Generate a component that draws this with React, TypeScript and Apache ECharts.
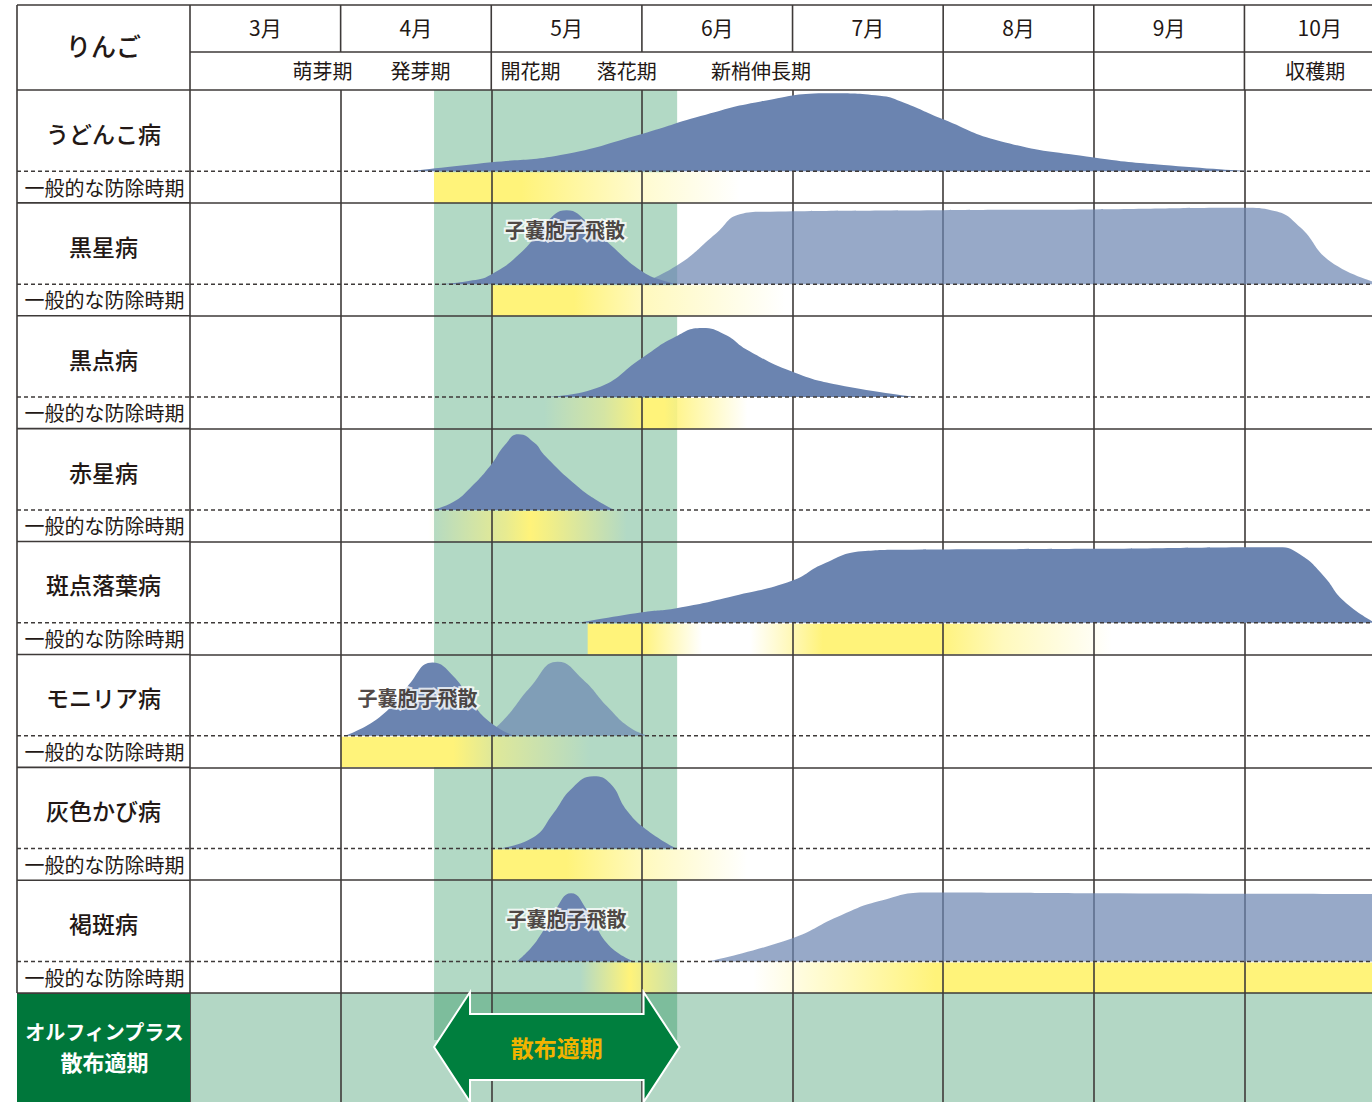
import React, { useEffect, useRef } from 'react';
import * as echarts from 'echarts';

// ---------- labels ----------
const cropLabel = 'りんご';
const months = ['3月', '4月', '5月', '6月', '7月', '8月', '9月', '10月'];
const monthCenters = [3.5, 4.5, 5.5, 6.5, 7.5, 8.5, 9.5, 10.5];
const stageLabels = ['萌芽期', '発芽期', '開花期', '落花期', '新梢伸長期', '収穫期'];
const stagePos = [3.88, 4.53, 5.26, 5.9, 6.79, 10.47];
const stageDividers = [5, 8, 9, 10];
const diseases = ['うどんこ病', '黒星病', '黒点病', '赤星病', '斑点落葉病', 'モニリア病', '灰色かび病', '褐斑病'];
const periodLabel = '一般的な防除時期';
const productLabel = ['オルフィンプラス', '散布適期'];
const sprayLabel = '散布適期';
const sporeLabel = '子嚢胞子飛散';

// ---------- x range (months) ----------
const monthStart = 3;
const monthEnd = 10.88;
const sprayWindow = [4.62, 6.234];
const sprayArrow = [4.62, 6.25];

// ---------- occurrence curves: [month, intensity 0-100] ----------
const powderyMildew = [[4.46, 0], [5.0, 11], [5.46, 20], [6.0, 46], [6.39, 68], [6.79, 86], [7.25, 96], [7.58, 93], [7.72, 86], [8.0, 64], [8.38, 37], [9.0, 17], [9.51, 7], [10.04, 0]];
const scabAscospore = [[4.64, 0], [4.85, 4], [5.0, 12], [5.22, 43], [5.36, 75], [5.5, 91], [5.64, 76], [5.8, 47], [6.0, 16], [6.15, 4], [6.25, 0]];
const scabSecondary = [[5.99, 0], [6.25, 25], [6.49, 62], [6.65, 86], [6.8, 89], [8.0, 91], [9.0, 92], [10.0, 94], [10.2, 90], [10.37, 70], [10.57, 28], [10.88, 2]];
const blackSpot = [[5.35, 0], [5.7, 11], [6.0, 48], [6.21, 73], [6.4, 85], [6.55, 77], [6.7, 58], [7.0, 31], [7.3, 15], [7.82, 0]];
const rust = [[4.61, 0], [4.75, 10], [4.86, 27], [5.0, 56], [5.09, 80], [5.18, 93], [5.29, 82], [5.35, 68], [5.56, 31], [5.7, 12], [5.82, 0]];
const alternaria = [[5.58, 0], [6.0, 13], [6.23, 18], [6.61, 33], [7.0, 52], [7.2, 72], [7.46, 88], [7.72, 90], [9.0, 91], [10.23, 93], [10.37, 84], [10.52, 59], [10.66, 27], [10.85, 2]];
const moniliaAscospore = [[4.03, 0], [4.26, 23], [4.44, 60], [4.61, 90], [4.75, 73], [4.86, 44], [4.99, 17], [5.15, 0]];
const moniliaConidia = [[4.97, 0], [5.1, 23], [5.26, 60], [5.44, 91], [5.61, 69], [5.77, 36], [5.92, 10], [6.04, 0]];
const grayMold = [[5.04, 0], [5.28, 14], [5.41, 43], [5.54, 75], [5.68, 89], [5.79, 80], [5.9, 47], [6.04, 22], [6.23, 0]];
const brownSpotAscospore = [[5.17, 0], [5.3, 25], [5.42, 62], [5.53, 84], [5.64, 62], [5.78, 20], [5.95, 0]];
const brownSpotSecondary = [[6.44, 0], [6.99, 28], [7.3, 55], [7.57, 74], [7.9, 85], [9.0, 84], [10.88, 83]];

const curves = [powderyMildew, scabAscospore, scabSecondary, blackSpot, rust, alternaria, moniliaAscospore, moniliaConidia, grayMold, brownSpotAscospore, brownSpotSecondary];
const curveRows = [0, 1, 1, 2, 3, 4, 5, 5, 6, 7, 7];
const curveLight = [false, false, true, false, false, false, false, true, false, false, true];

// spore-dispersal annotations: [month, row position]
const sporeLabelAt = [[5.49, 1.24], [4.51, 5.38], [5.5, 7.34]];

// ---------- general control periods: [month, yellow amount 0-1, opacity 0-1] ----------
const ctrlPowdery = [[4.62, 1, 1], [5.2, 1, 1], [6.0, 0.35, 1], [6.65, 0, 1]];
const ctrlScab = [[5.0, 1, 1], [5.55, 1, 1], [6.0, 0.5, 1], [6.95, 0, 1]];
const ctrlBlackSpot = [[5.35, 1, 0], [5.75, 1, 0.45], [6.03, 1, 1], [6.15, 1, 1], [6.7, 1, 0]];
const ctrlRust = [[4.58, 1, 0], [5.1, 1, 0.7], [5.26, 1, 1], [5.4, 1, 0.8], [5.9, 1, 0]];
const ctrlAlternaria = [[5.64, 1, 1], [5.99, 1, 1], [6.4, 0, 1], [6.72, 0, 1], [7.0, 0.55, 1], [7.2, 1, 1], [7.97, 1, 1], [8.4, 0.5, 1], [9.12, 0, 1]];
const ctrlMonilia = [[4.0, 1, 1], [4.75, 1, 1], [5.0, 1, 0.6], [5.66, 1, 0]];
const ctrlGrayMold = [[5.0, 1, 1], [5.5, 1, 1], [6.0, 0.5, 1], [6.7, 0, 1]];
const ctrlBrownSpotEarly = [[5.59, 1, 0], [5.92, 1, 1], [6.0, 1, 0.8], [6.234, 1, 0.35]];
const ctrlBrownSpotLate = [[6.74, 0, 1], [7.3, 0.45, 1], [7.95, 1, 1], [10.88, 1, 1]];

const controlBands = [ctrlPowdery, ctrlScab, ctrlBlackSpot, ctrlRust, ctrlAlternaria, ctrlMonilia, ctrlGrayMold, ctrlBrownSpotEarly, ctrlBrownSpotLate];
const controlRows = [0, 1, 2, 3, 4, 5, 6, 7, 7];

// ---------- styles ----------
const BASE = 0.72; // dashed divider inside a row
const ROW_MAX = 9.0;
const CHART_W = 1377;
const CHART_H = 1106;
const LINE = '#3e3a39';
const TEXT = '#231815';
const BLUE = '#6b84b0';
const BLUE_LIGHT = 'rgba(107,132,176,0.7)';
const YELLOW = [255, 243, 122];
const FONT = '"Noto Sans CJK JP", "Noto Sans", sans-serif';

function yellowAt(amount: number, alpha: number) {
  const c = YELLOW.map((v) => Math.round(255 - (255 - v) * amount));
  return `rgba(${c[0]},${c[1]},${c[2]},${alpha})`;
}

function buildOption(): any {
  const series: any[] = [];

  series.push({
    type: 'custom',
    name: 'bottomRow',
    silent: true,
    z: 1,
    encode: { x: [0, 1], y: [2, 3] },
    data: [[monthStart, monthEnd, 8, ROW_MAX]],
    renderItem: (params: any, api: any) => {
      const a = api.coord([api.value(0), api.value(2)]);
      const b = api.coord([api.value(1), api.value(3)]);
      return { type: 'rect', shape: { x: a[0], y: a[1], width: b[0] - a[0], height: b[1] - a[1] }, style: { fill: '#b3d7c5' } };
    },
  });

  series.push({
    type: 'custom',
    name: 'sprayBand',
    silent: true,
    z: 2,
    encode: { x: [0, 1], y: [2, 3] },
    data: [[sprayWindow[0], sprayWindow[1], 0, 8.416]],
    renderItem: (params: any, api: any) => {
      const a = api.coord([api.value(0), api.value(2)]);
      const b = api.coord([api.value(1), api.value(3)]);
      return { type: 'rect', shape: { x: a[0], y: a[1], width: b[0] - a[0], height: b[1] - a[1] }, style: { fill: 'rgba(0,128,64,0.3)' } };
    },
  });

  series.push({
    type: 'custom',
    name: 'control',
    silent: true,
    z: 3,
    encode: { x: [0, 1], y: 2 },
    data: controlBands.map((s, i) => [s[0][0], s[s.length - 1][0], controlRows[i]]),
    renderItem: (params: any, api: any) => {
      const stops = controlBands[params.dataIndex];
      const row = controlRows[params.dataIndex];
      const x0 = stops[0][0];
      const x1 = stops[stops.length - 1][0];
      const a = api.coord([x0, row + BASE]);
      const b = api.coord([x1, row + 1]);
      const grad = new echarts.graphic.LinearGradient(
        0, 0, 1, 0,
        stops.map((s) => ({ offset: (s[0] - x0) / (x1 - x0), color: yellowAt(s[1], s[2]) }))
      );
      return { type: 'rect', shape: { x: a[0], y: a[1] + 1, width: b[0] - a[0], height: b[1] - a[1] - 1 }, style: { fill: grad } };
    },
  });

  curves.forEach((pts, i) => {
    const row = curveRows[i];
    series.push({
      type: 'line',
      name: 'curve' + i,
      silent: true,
      z: 5,
      smooth: 0.5,
      symbol: 'none',
      showSymbol: false,
      lineStyle: { width: 0, opacity: 0 },
      areaStyle: { origin: row + BASE, color: curveLight[i] ? BLUE_LIGHT : BLUE, opacity: 1 },
      data: pts.map(([m, v]) => [m, row + BASE * (1 - v / 100)]),
    });
  });

  diseases.forEach((d, r) => {
    series.push({
      type: 'line',
      name: 'divider' + r,
      silent: true,
      z: 6,
      symbol: 'none',
      showSymbol: false,
      lineStyle: { color: LINE, width: 1.5, type: [4, 3] },
      data: [[monthStart, r + BASE], [monthEnd, r + BASE]],
    });
  });

  series.push({
    type: 'custom',
    name: 'arrow',
    silent: true,
    z: 7,
    encode: { x: [0, 1], y: 2 },
    data: [[sprayArrow[0], sprayArrow[1], 8.478]],
    renderItem: (params: any, api: any) => {
      const a = api.coord([api.value(0), api.value(2)]);
      const b = api.coord([api.value(1), api.value(2)]);
      const yc = a[1];
      const h = 55, s = 33, d = 36;
      const pts = [
        [a[0], yc], [a[0] + d, yc - h], [a[0] + d, yc - s], [b[0] - d, yc - s], [b[0] - d, yc - h],
        [b[0], yc], [b[0] - d, yc + h], [b[0] - d, yc + s], [a[0] + d, yc + s], [a[0] + d, yc + h],
      ];
      return {
        type: 'group',
        children: [
          { type: 'polygon', shape: { points: pts }, style: { fill: '#007f3e', stroke: '#ffffff', lineWidth: 2 } },
          {
            type: 'text',
            style: {
              text: sprayLabel, x: (a[0] + b[0]) / 2, y: yc, align: 'center', verticalAlign: 'middle',
              fill: '#f2b300', fontSize: 23, fontWeight: 'bold', fontFamily: FONT,
            },
          },
        ],
      };
    },
  });

  series.push({
    type: 'scatter',
    name: 'spore',
    silent: true,
    z: 8,
    symbolSize: 1,
    itemStyle: { color: 'rgba(0,0,0,0)' },
    label: {
      show: true, position: 'inside', formatter: sporeLabel, fontSize: 20, fontWeight: 'bold',
      color: TEXT, fontFamily: FONT, textBorderColor: '#ffffff', textBorderWidth: 4,
    },
    data: sporeLabelAt.map((p) => [p[0], p[1]]),
  });

  return {
    animation: false,
    backgroundColor: '#ffffff',
    textStyle: { fontFamily: FONT },
    grid: { left: 190, right: 0, top: 90, bottom: 0 },
    xAxis: [
      {
        type: 'value', min: monthStart, max: monthEnd, interval: 1, position: 'bottom', z: 4,
        axisLine: { show: false }, axisTick: { show: false }, axisLabel: { show: false },
        splitLine: { show: true, lineStyle: { color: LINE, width: 1.6 } },
      },
      {
        type: 'value', min: monthStart, max: monthEnd, position: 'top', z: 4,
        axisLine: { show: false }, axisTick: { show: false }, splitLine: { show: false },
        axisLabel: {
          show: true, customValues: monthCenters, margin: 53, fontSize: 21, color: TEXT, fontFamily: FONT,
          formatter: (v: number) => months[monthCenters.findIndex((c) => Math.abs(c - v) < 1e-6)] ?? '',
        },
      },
      {
        type: 'value', min: monthStart, max: monthEnd, position: 'top', z: 4,
        axisLine: { show: false }, axisTick: { show: false }, splitLine: { show: false },
        axisLabel: {
          show: true, customValues: stagePos, margin: 10, fontSize: 20, color: TEXT, fontFamily: FONT,
          formatter: (v: number) => stageLabels[stagePos.findIndex((c) => Math.abs(c - v) < 1e-6)] ?? '',
        },
      },
    ],
    yAxis: [
      {
        type: 'value', inverse: true, min: 0, max: ROW_MAX, interval: 1, z: 4,
        axisLine: { show: false }, axisTick: { show: false }, axisLabel: { show: false },
        splitLine: { show: true, lineStyle: { color: LINE, width: 1.6 } },
      },
    ],
    series,
  };
}

function buildGraphic(chart: any) {
  const px = (m: number, r: number) => chart.convertToPixel({ xAxisIndex: 0, yAxisIndex: 0 }, [m, r]) as number[];
  const L = 17;
  const T = 5;
  const M = 52;
  const W = CHART_W;
  const [gx, gy] = px(monthStart, 0);
  const y8 = px(monthStart, 8)[1];
  const els: any[] = [];
  const line = (x1: number, y1: number, x2: number, y2: number, dash?: number[]) =>
    els.push({
      type: 'line', silent: true, z: 20,
      shape: { x1, y1, x2, y2 },
      style: { stroke: LINE, lineWidth: dash ? 1.5 : 1.6, lineDash: dash || null },
    });
  const text = (t: string, x: number, y: number, size: number, weight: any, color = TEXT) =>
    els.push({
      type: 'text', silent: true, z: 21,
      style: { text: t, x, y, align: 'center', verticalAlign: 'middle', fill: color, fontSize: size, fontWeight: weight, fontFamily: FONT },
    });

  els.push({ type: 'rect', silent: true, z: 15, shape: { x: L, y: y8, width: gx - L, height: CHART_H - y8 }, style: { fill: '#00773b' } });

  line(L, T, W, T);
  line(L, T, L, y8);
  line(gx, T, gx, gy);
  line(gx, M, W, M);
  for (let r = 0; r <= 8; r++) {
    const y = px(monthStart, r)[1];
    line(L, y, gx, y);
  }
  for (let r = 0; r < diseases.length; r++) {
    const y = px(monthStart, r + BASE)[1];
    line(L, y, gx, y, [4, 3]);
  }
  for (let m = 4; m <= 10; m++) {
    const x = px(m, 0)[0];
    line(x, T, x, M);
  }
  stageDividers.forEach((m) => {
    const x = px(m, 0)[0];
    line(x, M, x, gy);
  });

  const cx = (L + gx) / 2;
  text(cropLabel, cx, 45, 25, 500);
  diseases.forEach((d, r) => {
    text(d, cx, px(monthStart, r + 0.38)[1], 23, 500);
    text(periodLabel, cx + 1, px(monthStart, r + 0.86)[1], 20, 'normal');
  });
  text(productLabel[0], cx + 1, px(monthStart, 8.34)[1], 20, 'bold', '#ffffff');
  text(productLabel[1], cx + 1, px(monthStart, 8.6)[1], 22, 'bold', '#ffffff');
  return els;
}

export default function App() {
  const ref = useRef<HTMLDivElement>(null);
  useEffect(() => {
    if (!ref.current) return;
    const chart = echarts.init(ref.current, null, { renderer: 'svg' });
    chart.setOption(buildOption());
    chart.setOption({ graphic: { elements: buildGraphic(chart) } });
    return () => chart.dispose();
  }, []);
  return (
    <div
      ref={ref}
      style={{ position: 'fixed', left: 0, top: 0, width: CHART_W, height: CHART_H, background: '#ffffff' }}
    />
  );
}
